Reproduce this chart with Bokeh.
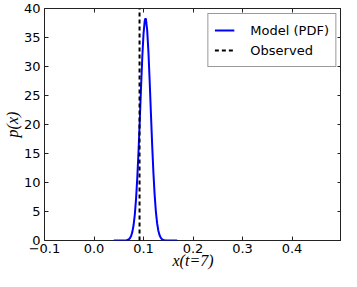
from bokeh.plotting import figure
from bokeh.models import LinearAxis, FixedTicker, Range1d, Legend, LegendItem
from bokeh.embed import file_html
from bokeh.resources import INLINE

# ---- data ----
model_x = [0.040, 0.050, 0.060, 0.0625, 0.065, 0.0675, 0.070, 0.0725, 0.075, 0.0775,
           0.080, 0.0825, 0.085, 0.0875, 0.090, 0.0925, 0.095, 0.0975, 0.100, 0.1025,
           0.104, 0.105, 0.1075, 0.110, 0.1125, 0.115, 0.1175, 0.120, 0.1225, 0.125,
           0.1275, 0.130, 0.1325, 0.135, 0.1375, 0.140, 0.145, 0.150, 0.160, 0.168]
model_pdf = [0.0, 0.0, 0.005, 0.013, 0.034, 0.081, 0.18, 0.39, 0.78, 1.49,
             2.67, 4.52, 7.22, 10.88, 15.48, 20.78, 26.34, 31.51, 35.57, 37.90,
             38.3, 38.12, 36.19, 32.43, 27.42, 21.89, 16.49, 11.73, 7.87, 4.99,
             2.98, 1.68, 0.90, 0.45, 0.21, 0.096, 0.016, 0.002, 0.0, 0.0]
observed_x = 0.092

x_min, x_max = -0.1, 0.5
y_min, y_max = 0, 40
x_ticks = [-0.1, 0.0, 0.1, 0.2, 0.3, 0.4]
x_tick_labels = ["\u22120.1", "0.0", "0.1", "0.2", "0.3", "0.4"]
y_ticks = [0, 5, 10, 15, 20, 25, 30, 35, 40]
y_tick_labels = ["0", "5", "10", "15", "20", "25", "30", "35", "40"]

TICK_FONT = "DejaVu Sans"
MATH_FONT = "Liberation Serif"

p = figure(width=341, height=271,
           x_range=Range1d(x_min, x_max), y_range=Range1d(y_min, y_max),
           output_backend="svg", toolbar_location=None,
           min_border_left=30, min_border_right=0, min_border_top=8, min_border_bottom=10)

p.grid.visible = False
p.outline_line_color = "#222222"
p.outline_line_width = 1
p.background_fill_color = "white"
p.border_fill_color = "white"

r_model = p.line(model_x, model_pdf, line_color="#0000ff", line_width=2)
r_obs = p.line([observed_x, observed_x], [y_min, y_max], line_color="black",
               line_width=2, line_dash="4 3")

def style_axis(ax, ticks, labels, show_labels):
    ax.ticker = FixedTicker(ticks=ticks)
    ax.major_label_overrides = {t: (l if show_labels else "") for t, l in zip(ticks, labels)}
    ax.minor_tick_line_color = None
    ax.major_tick_in = 4
    ax.major_tick_out = 0
    ax.major_tick_line_color = "#222222"
    ax.axis_line_color = None
    ax.major_label_text_font = TICK_FONT
    ax.major_label_text_color = "black"
    if show_labels:
        ax.major_label_text_font_size = "13px"
        ax.major_label_standoff = 4
    else:
        ax.major_label_text_font_size = "1px"
        ax.major_label_standoff = 0

xa = p.xaxis[0]
ya = p.yaxis[0]
style_axis(xa, x_ticks, x_tick_labels, True)
style_axis(ya, y_ticks, y_tick_labels, True)
xa.major_label_standoff = 3
xa.axis_label = "x(t=7)"
ya.axis_label = "p(x)"
for ax in (xa, ya):
    ax.axis_label_text_font = MATH_FONT
    ax.axis_label_text_font_style = "italic"
    ax.axis_label_text_font_size = "16px"
    ax.axis_label_text_color = "black"
xa.axis_label_standoff = -4
ya.axis_label_standoff = 0

top = LinearAxis()
style_axis(top, x_ticks, x_tick_labels, False)
p.add_layout(top, "above")
right = LinearAxis()
style_axis(right, y_ticks, y_tick_labels, False)
p.add_layout(right, "right")

legend = Legend(items=[LegendItem(label="Model (PDF)", renderers=[r_model]),
                       LegendItem(label="Observed", renderers=[r_obs])],
                location="top_right")
legend.label_text_font = TICK_FONT
legend.label_text_font_size = "13px"
legend.label_text_color = "black"
legend.glyph_width = 20
legend.glyph_height = 20
legend.label_height = 20
legend.label_standoff = 16
legend.spacing = 0
legend.padding = 6
legend.margin = 5
legend.border_line_color = "#333333"
legend.border_line_width = 1
legend.background_fill_color = "white"
legend.background_fill_alpha = 1
p.add_layout(legend)

open("out.html", "w").write(file_html(p, INLINE))
